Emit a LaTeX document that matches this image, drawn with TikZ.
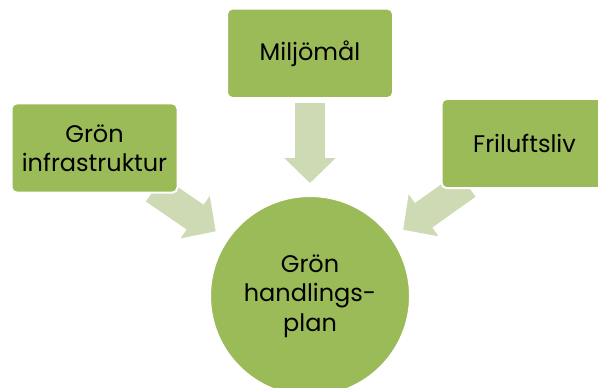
\documentclass[tikz,border=0pt]{standalone}
\usepackage{fontspec}
\setmainfont{Poppins}
\usetikzlibrary{arrows.meta, positioning, backgrounds}
\definecolor{boxgreen}{HTML}{9BBB59}
\definecolor{arrowgreen}{HTML}{CDDAB4}

\begin{document}
\begin{tikzpicture}[
    x=0.75pt, y=-0.75pt,
    block/.style={rectangle, draw=white, line width=1.5pt, fill=boxgreen,
                  minimum width=124.5pt, minimum height=67pt,
                  align=center, font=\fontsize{18}{22}\selectfont, rounded corners=4pt},
    hub/.style={circle, draw=white, line width=1.5pt, fill=boxgreen,
                minimum size=150pt, align=center, font=\fontsize{18}{22}\selectfont},
    bigarrow/.style={-{Triangle[length=18.75pt, width=37.5pt]}, line width=22.5pt, color=arrowgreen},
  ]
  \useasboundingbox (0,0) rectangle (598,387);
  \clip (0,0) rectangle (598,387);

  % Centre
  \node[hub] (plan) at (310,296) {Grön\\handlings-\\plan};

  % Sources
  \node[block, above=72pt of plan] (milj) {Miljömål};
  \node[block] (infra) at (94.5,148) {Grön\\infrastruktur};
  \node[block] (frilu) at (524.5,143.5) {Friluftsliv};

  \begin{scope}[on background layer]
    \draw[bigarrow, shorten <=3pt, shorten >=9pt] (milj) -- (plan);
    \draw[bigarrow, shorten <=-6pt, shorten >=10pt] (infra) -- (plan);
    \draw[bigarrow, shorten <=-6pt, shorten >=10pt] (frilu) -- (plan);
  \end{scope}

\end{tikzpicture}
\end{document}
